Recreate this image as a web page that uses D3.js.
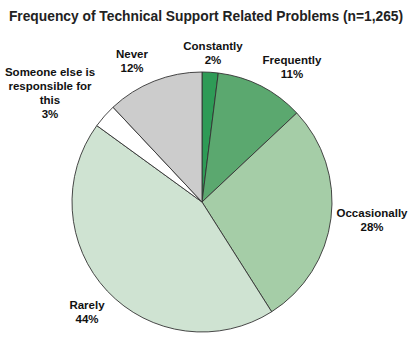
<!DOCTYPE html>
<html><head><meta charset="utf-8">
<script src="https://cdn.jsdelivr.net/npm/d3@7"></script>
<style>body{margin:0;background:#fff}svg{display:block}</style>
</head><body>
<script>
const categories = ["Constantly","Frequently","Occasionally","Rarely","Someone else is responsible for this","Never"];
const values = [2,11,28,44,3,12];
const colors = ["#2e9b56","#5ba86f","#a5cda7","#cfe3d2","#ffffff","#cccccc"];
const labelLines = [["Constantly","2%"],["Frequently","11%"],["Occasionally","28%"],["Rarely","44%"],["Someone else is","responsible for","this","3%"],["Never","12%"]];
const labelPos = [[213,50],[292,64],[372,217],[87,309],[50,76],[132,58]];
const title = "Frequency of Technical Support Related Problems (n=1,265)";

const W=417,H=344,cx=202,cy=202,R=130;
const svg=d3.select("body").append("svg").attr("width",W).attr("height",H);
svg.append("text").attr("x",206).attr("y",21).attr("text-anchor","middle")
  .attr("font-family","Liberation Sans, Arial, sans-serif").attr("font-weight","bold").attr("font-size",13.8)
  .attr("fill","#222").text(title);
const pie=d3.pie().sort(null).value(d=>d)(values);
const arc=d3.arc().innerRadius(0).outerRadius(R);
const g=svg.append("g").attr("transform",`translate(${cx},${cy})`);
g.selectAll("path").data(pie).join("path").attr("d",arc)
  .attr("fill",(d,i)=>colors[i]).attr("stroke","#333").attr("stroke-width",0.9);
const lab=svg.append("g").attr("font-family","Liberation Sans, Arial, sans-serif").attr("font-weight","bold").attr("font-size",11.5).attr("fill","#111").attr("text-anchor","middle");
labelLines.forEach((lines,i)=>{
  const t=lab.append("text").attr("x",labelPos[i][0]).attr("y",labelPos[i][1]);
  lines.forEach((l,j)=>t.append("tspan").attr("x",labelPos[i][0]).attr("dy",j?14:0).text(l));
});
</script>
</body></html>
